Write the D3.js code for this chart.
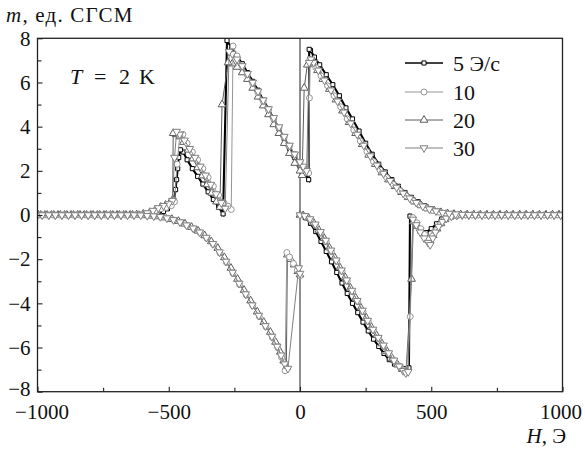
<!DOCTYPE html>
<html>
<head>
<meta charset="utf-8">
<script src="https://cdn.jsdelivr.net/npm/d3@7"></script>
<style>
  body { margin: 0; background: #fff; }
  svg text { font-family: "Liberation Serif", "DejaVu Serif", serif; fill: #111; }
</style>
</head>
<body>
<svg id="chart" width="585" height="450"></svg>
<script>
// field ticks (Oe) and moment ticks (emu)
var fieldTicks = [-1000, -500, 0, 500, 1000];
var fieldMinor = [-750, -250, 250, 750];
var momentTicks = [-8, -6, -4, -2, 0, 2, 4, 6, 8];
var momentMinor = [-7, -5, -3, -1, 1, 3, 5, 7];
var rateLabels = ["5 Э/с", "10", "20", "30"];

// 5 Oe/s : virgin 0 -> 1000, then 1000 -> -1000
var sweep5 = [
  [0,0],[20,-0.12],[40,-0.38],[60,-0.75],[80,-1.2],[100,-1.65],[120,-2.12],[140,-2.6],[160,-3.08],[180,-3.55],
  [200,-4.0],[220,-4.42],[240,-4.85],[260,-5.25],[280,-5.62],[300,-5.95],[320,-6.27],[340,-6.55],[360,-6.75],
  [380,-6.88],[400,-6.95],[415,-6.92],[419,-0.05],[440,-0.35],[460,-0.65],[480,-0.8],[500,-0.62],[520,-0.4],
  [540,-0.18],[560,-0.07],[580,-0.02],[600,0],[625,0],[650,0],[675,0],[700,0],[725,0],[750,0],[775,0],[800,0],
  [825,0],[850,0],[875,0],[900,0],[925,0],[950,0],[975,0],[1000,0],
  [975,0],[950,0],[925,0],[900,0],[875,0],[850,0],[825,0],[800,0],[775,0],[750,0],[725,0],[700,0],[675,0],
  [650,0],[625,0],[600,0.02],[575,0.05],[550,0.1],[525,0.17],[500,0.28],[475,0.42],[450,0.6],[425,0.8],
  [400,1.02],[375,1.3],[350,1.6],[325,1.95],[300,2.3],[275,2.75],[250,3.25],[225,3.8],[200,4.35],[175,4.85],
  [150,5.4],[125,5.9],[100,6.35],[75,6.8],[55,7.15],[40,7.45],[35,7.5],[33,1.6],[20,1.85],[0,2.2],[-20,2.6],
  [-40,3.0],[-60,3.45],[-80,3.9],[-100,4.35],[-120,4.8],[-140,5.2],[-160,5.65],[-180,6.05],[-200,6.45],
  [-220,6.85],[-240,7.2],[-260,7.55],[-278,7.9],[-293,0.05],[-310,0.35],[-330,0.7],[-350,1.05],[-370,1.4],
  [-390,1.75],[-410,2.1],[-430,2.5],[-445,2.85],[-455,2.95],[-462,2.6],[-466,2.1],[-470,1.6],[-474,1.15],
  [-480,0.65],[-490,0.45],[-505,0.28],[-520,0.16],[-540,0.08],[-560,0.04],[-580,0.02],[-600,0],[-625,0],
  [-650,0],[-675,0],[-700,0],[-725,0],[-750,0],[-775,0],[-800,0],[-825,0],[-850,0],[-875,0],[-900,0],
  [-925,0],[-950,0],[-975,0],[-1000,0]
];

// 10 Oe/s : virgin, 1000 -> -1000, -1000 -> 0
var sweep10 = [
  [0,0],[20,-0.05],[40,-0.22],[60,-0.48],[80,-0.82],[100,-1.22],[120,-1.65],[140,-2.1],[160,-2.55],[180,-3.0],
  [200,-3.48],[220,-3.92],[240,-4.38],[260,-4.82],[280,-5.22],[300,-5.6],[320,-5.95],[340,-6.3],[360,-6.6],
  [380,-6.85],[395,-7.02],[405,-7.1],[420,-4.6],[430,-0.12],[445,-0.35],[460,-0.62],[475,-0.88],[490,-1.08],
  [505,-0.95],[520,-0.68],[535,-0.42],[550,-0.22],[570,-0.08],[590,-0.02],[605,0],[630,0],[655,0],[680,0],
  [705,0],[730,0],[755,0],[780,0],[805,0],[830,0],[855,0],[880,0],[905,0],[930,0],[955,0],[980,0],[1000,0],
  [980,0.01],[955,0],[930,0],[905,0.01],[880,0],[855,0],[830,0],[805,0.01],[780,0],[755,0],[730,0],[705,0],
  [680,0.01],[655,0],[630,0.01],[605,0.02],[580,0.04],[555,0.08],[530,0.13],[505,0.21],[480,0.32],[455,0.47],
  [430,0.65],[405,0.86],[380,1.1],[355,1.38],[330,1.7],[305,2.03],[280,2.42],[255,2.87],[230,3.35],[205,3.85],
  [180,4.35],[155,4.9],[130,5.4],[105,5.85],[80,6.3],[60,6.68],[45,6.95],[38,7.05],[36,5.3],[33,1.9],[20,2.05],
  [0,2.4],[-20,2.75],[-40,3.12],[-60,3.52],[-80,3.95],[-100,4.35],[-120,4.75],[-140,5.15],[-160,5.55],
  [-180,5.95],[-200,6.35],[-220,6.75],[-240,7.2],[-255,7.65],[-262,0.25],[-275,0.4],[-290,0.55],[-310,0.9],
  [-330,1.3],[-350,1.7],[-370,2.1],[-390,2.5],[-410,2.85],[-430,3.25],[-446,3.65],[-458,3.6],[-468,2.3],
  [-478,0.6],[-490,0.42],[-510,0.34],[-530,0.28],[-550,0.2],[-570,0.1],[-590,0.05],[-615,0.02],[-640,0],
  [-665,0],[-690,0],[-715,0],[-740,0],[-765,0],[-790,0],[-815,0],[-840,0],[-865,0],[-890,0],[-915,0],
  [-940,0],[-965,0],[-990,0],[-1000,0],
  [-980,0],[-955,0],[-930,0],[-905,0],[-880,0],[-855,0],[-830,0],[-805,0],[-780,0],[-755,0],[-730,0],
  [-705,0],[-680,0],[-655,0],[-630,0],[-605,-0.01],[-580,-0.03],[-555,-0.05],[-530,-0.09],[-505,-0.15],
  [-480,-0.23],[-455,-0.33],[-430,-0.47],[-405,-0.62],[-380,-0.8],[-355,-1.05],[-330,-1.33],[-305,-1.72],
  [-280,-2.15],[-255,-2.65],[-230,-3.15],[-205,-3.62],[-180,-4.1],[-155,-4.6],[-130,-5.05],[-105,-5.55],
  [-85,-6.0],[-70,-6.45],[-57,-7.05],[-50,-1.7],[-40,-1.9],[-25,-2.2],[-10,-2.5],[0,-2.75]
];

// 20 Oe/s
var sweep20 = [
  [0,0],[12,-0.02],[32,-0.12],[52,-0.35],[72,-0.68],[92,-1.05],[112,-1.48],[132,-1.92],[152,-2.38],[172,-2.82],
  [192,-3.3],[212,-3.75],[232,-4.2],[252,-4.65],[272,-5.08],[292,-5.45],[312,-5.82],[332,-6.18],[352,-6.5],
  [372,-6.78],[390,-6.98],[404,-7.05],[425,-2.9],[432,-0.3],[447,-0.5],[462,-0.72],[477,-0.95],[492,-1.1],
  [507,-0.92],[522,-0.62],[537,-0.38],[552,-0.2],[572,-0.08],[592,-0.03],[612,0],[637,0],[662,0],[687,0],
  [712,0],[737,0],[762,0],[787,0],[812,0],[837,0],[862,0],[887,0],[912,0],[937,0],[962,0],[987,0],[1000,0],
  [987,0],[962,0.01],[937,0],[912,0],[887,0.01],[862,0],[837,0],[812,0],[787,0.01],[762,0],[737,0],[712,0],
  [687,0],[662,0.01],[637,0.01],[612,0.02],[587,0.04],[562,0.07],[537,0.12],[512,0.19],[487,0.29],[462,0.43],
  [437,0.6],[412,0.8],[387,1.03],[362,1.3],[337,1.6],[312,1.92],[287,2.3],[262,2.72],[237,3.2],[212,3.7],
  [187,4.2],[162,4.72],[137,5.22],[112,5.7],[87,6.15],[67,6.55],[50,6.85],[40,6.9],[28,6.8],[16,5.75],[8,1.8],
  [0,2.0],[-20,2.35],[-40,2.8],[-60,3.25],[-80,3.7],[-100,4.1],[-120,4.55],[-140,4.95],[-160,5.35],[-180,5.75],
  [-200,6.15],[-220,6.45],[-240,6.7],[-258,6.85],[-274,6.9],[-297,5.0],[-305,0.36],[-318,0.6],[-336,1.0],
  [-354,1.38],[-372,1.78],[-390,2.15],[-408,2.55],[-426,2.95],[-444,3.3],[-458,3.55],[-472,3.65],[-483,3.7],
  [-485,0.7],[-496,0.55],[-512,0.45],[-530,0.36],[-550,0.25],[-572,0.12],[-597,0.05],[-622,0.02],[-647,0],
  [-672,0],[-697,0],[-722,0],[-747,0],[-772,0],[-797,0],[-822,0],[-847,0],[-872,0],[-897,0],[-922,0],
  [-947,0],[-972,0],[-997,0],[-1000,0],
  [-988,0],[-963,0],[-938,0],[-913,0],[-888,0],[-863,0],[-838,0],[-813,0],[-788,0],[-763,0],[-738,0],
  [-713,0],[-688,0],[-663,0],[-638,0],[-613,-0.01],[-588,-0.02],[-563,-0.04],[-538,-0.07],[-513,-0.12],
  [-488,-0.19],[-463,-0.28],[-438,-0.4],[-413,-0.55],[-388,-0.72],[-363,-0.93],[-338,-1.2],[-313,-1.5],
  [-288,-1.92],[-263,-2.4],[-238,-2.9],[-213,-3.4],[-188,-3.88],[-163,-4.38],[-138,-4.85],[-113,-5.3],
  [-93,-5.75],[-75,-6.2],[-62,-6.6],[-52,-6.9],[-48,-1.8],[-36,-2.0],[-22,-2.25],[-8,-2.55],[0,-2.7]
];

// 30 Oe/s
var sweep30 = [
  [0,0],[18,-0.04],[38,-0.18],[58,-0.42],[78,-0.76],[98,-1.15],[118,-1.6],[138,-2.05],[158,-2.5],[178,-2.95],
  [198,-3.42],[218,-3.88],[238,-4.32],[258,-4.78],[278,-5.18],[298,-5.55],[318,-5.9],[338,-6.25],[358,-6.58],
  [378,-6.85],[393,-7.05],[403,-7.15],[412,-7.1],[430,-0.2],[443,-0.45],[458,-0.78],[473,-1.05],[488,-1.25],
  [496,-1.35],[506,-1.05],[516,-0.78],[528,-0.52],[542,-0.3],[557,-0.15],[577,-0.06],[597,-0.02],[618,0],
  [643,0],[668,0],[693,0],[718,0],[743,0],[768,0],[793,0],[818,0],[843,0],[868,0],[893,0],[918,0],[943,0],
  [968,0],[993,0],[1000,0],
  [993,0],[968,0],[943,0.01],[918,0],[893,0],[868,0.01],[843,0],[818,0],[793,0],[768,0.01],[743,0],[718,0],
  [693,0],[668,0.01],[643,0.01],[618,0.02],[593,0.04],[568,0.07],[543,0.11],[518,0.18],[493,0.27],[468,0.4],
  [443,0.56],[418,0.76],[393,0.98],[368,1.25],[343,1.55],[318,1.88],[293,2.25],[268,2.67],[243,3.15],
  [218,3.65],[193,4.15],[168,4.65],[143,5.15],[118,5.65],[93,6.1],[70,6.55],[52,6.9],[42,7.05],[35,6.9],
  [25,2.0],[12,2.2],[0,2.4],[-20,2.75],[-40,3.15],[-60,3.55],[-80,3.98],[-100,4.4],[-120,4.8],[-140,5.2],
  [-160,5.6],[-180,6.0],[-200,6.4],[-220,6.75],[-240,7.05],[-258,7.3],[-270,7.4],[-285,0.3],[-300,0.55],
  [-320,0.95],[-340,1.38],[-360,1.8],[-380,2.2],[-400,2.6],[-420,3.0],[-440,3.38],[-458,3.65],[-470,3.78],
  [-478,2.6],[-486,0.65],[-500,0.5],[-520,0.42],[-540,0.32],[-560,0.2],[-582,0.09],[-607,0.03],[-632,0.01],
  [-657,0],[-682,0],[-707,0],[-732,0],[-757,0],[-782,0],[-807,0],[-832,0],[-857,0],[-882,0],[-907,0],
  [-932,0],[-957,0],[-982,0],[-1000,0],
  [-982,0],[-957,0],[-932,0],[-907,0],[-882,0],[-857,0],[-832,0],[-807,0],[-782,0],[-757,0],[-732,0],
  [-707,0],[-682,0],[-657,0],[-632,0],[-607,-0.01],[-582,-0.03],[-557,-0.05],[-532,-0.08],[-507,-0.14],
  [-482,-0.22],[-457,-0.32],[-432,-0.46],[-407,-0.6],[-382,-0.78],[-357,-1.02],[-332,-1.3],[-307,-1.68],
  [-282,-2.1],[-257,-2.6],[-232,-3.1],[-207,-3.58],[-182,-4.08],[-157,-4.55],[-132,-5.02],[-107,-5.5],
  [-87,-5.95],[-72,-6.35],[-58,-6.75],[-46,-6.95],[-5,-2.4],[0,-2.65]
];

var series = [
  {name: rateLabels[0], data: sweep5,  color: "#000",    symbol: d3.symbolSquare,   size: 17, rot: 0,   width: 2.1},
  {name: rateLabels[1], data: sweep10, color: "#959595", symbol: d3.symbolCircle,   size: 28, rot: 0,   width: 1},
  {name: rateLabels[2], data: sweep20, color: "#5c5c5c", symbol: d3.symbolTriangle, size: 26, rot: 0,   width: 1},
  {name: rateLabels[3], data: sweep30, color: "#808080", symbol: d3.symbolTriangle, size: 26, rot: 180, width: 1}
];
var drawOrder = [0, 2, 1, 3];

var plotLeft = 37.5, plotRight = 562.5, plotTop = 38.3, plotBottom = 391.7;

var svg = d3.select("#chart");

var x = d3.scaleLinear().domain([-1000, 1000]).range([plotLeft, plotRight]);
var y = d3.scaleLinear().domain([-8, 8]).range([plotBottom, plotTop]);

svg.append("defs").append("clipPath").attr("id", "plotclip")
  .append("rect").attr("x", plotLeft).attr("y", plotTop)
  .attr("width", plotRight - plotLeft).attr("height", plotBottom - plotTop);

// zero field line
svg.append("line")
  .attr("x1", x(0)).attr("x2", x(0)).attr("y1", plotTop).attr("y2", plotBottom)
  .attr("stroke", "#333").attr("stroke-width", 1.1);

var plot = svg.append("g").attr("clip-path", "url(#plotclip)");

var line = d3.line().x(function(d) { return x(d[0]); }).y(function(d) { return y(d[1]); });

drawOrder.forEach(function(i) {
  var s = series[i];
  var g = plot.append("g");
  g.append("path").datum(s.data)
    .attr("d", line).attr("fill", "none")
    .attr("stroke", s.color).attr("stroke-width", s.width);
  g.selectAll("path.pt").data(s.data).enter().append("path")
    .attr("class", "pt")
    .attr("d", d3.symbol().type(s.symbol).size(s.size))
    .attr("transform", function(d) {
      return "translate(" + x(d[0]) + "," + y(d[1]) + ") rotate(" + s.rot + ")";
    })
    .attr("fill", "#fff").attr("stroke", s.color).attr("stroke-width", 1);
});

// axes
var minusFmt = function(d) { return d < 0 ? "\u2212" + Math.abs(d) : d; };
var axisX = d3.axisBottom(x).tickValues(fieldTicks).tickSizeInner(-5).tickSizeOuter(0).tickPadding(12)
  .tickFormat(minusFmt);
var gx = svg.append("g").attr("transform", "translate(0," + plotBottom + ")").call(axisX);
var gxm = svg.append("g").attr("transform", "translate(0," + plotBottom + ")")
  .call(d3.axisBottom(x).tickValues(fieldMinor).tickSizeInner(-4).tickSizeOuter(0).tickFormat(""));

var axisY = d3.axisLeft(y).tickValues(momentTicks).tickSizeInner(-5).tickSizeOuter(0).tickPadding(7)
  .tickFormat(minusFmt);
var gy = svg.append("g").attr("transform", "translate(" + plotLeft + ",0)").call(axisY);
var gym = svg.append("g").attr("transform", "translate(" + plotLeft + ",0)")
  .call(d3.axisLeft(y).tickValues(momentMinor).tickSizeInner(-4).tickSizeOuter(0).tickFormat(""));

[gx, gxm, gy, gym].forEach(function(g) {
  g.select(".domain").remove();
  g.selectAll("line").attr("stroke", "#222").attr("stroke-width", 1.1);
  g.selectAll("text").style("font-size", "21px").attr("fill", "#111")
    .style("font-family", "Liberation Serif, serif");
});
// keep the end labels inside the page
gx.selectAll(".tick text").filter(function(d) { return d === -1000; }).attr("dx", "4");
gx.selectAll(".tick text").filter(function(d) { return d === 1000; }).attr("dx", "-2");
gy.selectAll(".tick text").filter(function(d) { return d === -8; }).attr("dy", "0.2em");

// frame
svg.append("rect")
  .attr("x", plotLeft).attr("y", plotTop).attr("width", plotRight - plotLeft).attr("height", plotBottom - plotTop)
  .attr("fill", "none").attr("stroke", "#222").attr("stroke-width", 1.3);

// axis titles
var yt = svg.append("text").attr("x", 6).attr("y", 22).style("font-size", "21px").style("letter-spacing", "1.2px");
yt.append("tspan").style("font-style", "italic").text("m");
yt.append("tspan").text(", ед. СГСМ");

var xt = svg.append("text").attr("x", 566).attr("y", 443).attr("text-anchor", "end").style("font-size", "21px");
xt.append("tspan").style("font-style", "italic").text("H");
xt.append("tspan").text(", Э");

var tt = svg.append("text").attr("y", 84).style("font-size", "22px");
tt.append("tspan").attr("x", 70).style("font-style", "italic").text("T");
tt.append("tspan").attr("x", 94).text("=");
tt.append("tspan").attr("x", 119).text("2");
tt.append("tspan").attr("x", 139).text("K");

// legend
var legY = [63, 92, 120, 148];
var leg = svg.append("g");
series.forEach(function(s, i) {
  leg.append("line").attr("x1", 405).attr("x2", 443).attr("y1", legY[i]).attr("y2", legY[i])
    .attr("stroke", s.color).attr("stroke-width", Math.min(s.width, 1.6));
  leg.append("path")
    .attr("d", d3.symbol().type(s.symbol).size(s.size))
    .attr("transform", "translate(424," + legY[i] + ") rotate(" + s.rot + ")")
    .attr("fill", "#fff").attr("stroke", s.color).attr("stroke-width", 1);
  leg.append("text").attr("x", 453).attr("y", legY[i]).attr("dy", "0.35em")
    .style("font-size", "22px").text(s.name);
});
</script>
</body>
</html>
